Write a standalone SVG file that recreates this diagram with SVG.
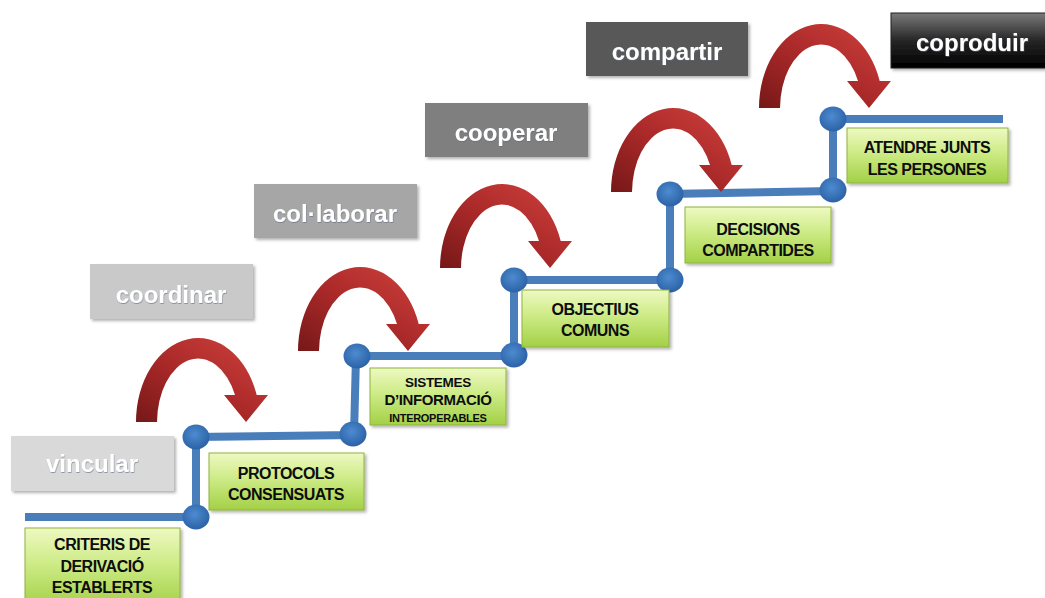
<svg xmlns="http://www.w3.org/2000/svg" width="1045" height="598" viewBox="0 0 1045 598">
  <defs>
    <linearGradient id="greenFill" x1="0" y1="0" x2="0" y2="1">
      <stop offset="0" stop-color="#eef9c2"/>
      <stop offset="0.45" stop-color="#cdeb86"/>
      <stop offset="1" stop-color="#a3d046"/>
    </linearGradient>
    <linearGradient id="redFill" x1="0" y1="1" x2="1" y2="0">
      <stop offset="0" stop-color="#761818"/>
      <stop offset="0.45" stop-color="#a82828"/>
      <stop offset="1" stop-color="#d2433f"/>
    </linearGradient>
    <linearGradient id="blackFill" x1="0" y1="0" x2="0" y2="1">
      <stop offset="0" stop-color="#7a7a7a"/>
      <stop offset="0.5" stop-color="#262626"/>
      <stop offset="1" stop-color="#000000"/>
    </linearGradient>
    <radialGradient id="dotFill" cx="0.45" cy="0.4" r="0.6">
      <stop offset="0" stop-color="#4d8bd0"/>
      <stop offset="1" stop-color="#2c62a6"/>
    </radialGradient>
    <filter id="shadow" x="-10%" y="-10%" width="125%" height="130%">
      <feDropShadow dx="2" dy="2" stdDeviation="1.5" flood-color="#000" flood-opacity="0.3"/>
    </filter>
    <filter id="txtShadow" x="-5%" y="-20%" width="110%" height="150%">
      <feDropShadow dx="0.5" dy="1" stdDeviation="0.6" flood-color="#5a6a80" flood-opacity="0.6"/>
    </filter>
    <!-- curved jump arrow, drawn once and placed at each step -->
    <path id="jump" d="M136,422 A62,84 0 0 1 256.7,395 L268,395 L246,422 L224,395 L235,395 A41,64 0 0 0 157,422 Z"/>
  </defs>
  <style>
    .label rect { filter: url(#shadow); }
    .label text { font-family: "Liberation Sans", Arial, sans-serif; font-weight: bold; font-size: 24px; fill: #ffffff; text-anchor: middle; filter: url(#txtShadow); }
    .step rect { fill: url(#greenFill); stroke: #8fb23e; stroke-width: 1; filter: url(#shadow); }
    .step text { font-family: "Liberation Sans", Arial, sans-serif; font-weight: bold; font-size: 16px; letter-spacing: -0.5px; fill: #0d0d0d; text-anchor: middle; }
    .step text.s13 { font-size: 13.5px; letter-spacing: -0.3px; }
    .step text.s14 { font-size: 15px; letter-spacing: -0.4px; }
    .step text.s11 { font-size: 11px; letter-spacing: -0.3px; }
    .stair { fill: none; stroke: #4a7ebb; stroke-width: 8; stroke-linejoin: miter; }
    .dot { fill: url(#dotFill); }
    .arrow use { fill: url(#redFill); }
  </style>

  <rect width="1045" height="598" fill="#ffffff"/>

  <!-- stage labels -->
  <g id="label-vincular" class="label">
    <rect x="11" y="436" width="163" height="55" fill="#d9d9d9"/>
    <text x="92" y="472">vincular</text>
  </g>
  <g id="label-coordinar" class="label">
    <rect x="90" y="264" width="163" height="55" fill="#c9c9c9"/>
    <text x="171" y="303">coordinar</text>
  </g>
  <g id="label-collaborar" class="label">
    <rect x="254" y="184" width="163" height="54" fill="#a6a6a6"/>
    <text x="335" y="222">col·laborar</text>
  </g>
  <g id="label-cooperar" class="label">
    <rect x="425" y="103" width="163" height="54" fill="#7f7f7f"/>
    <text x="506" y="141">cooperar</text>
  </g>
  <g id="label-compartir" class="label">
    <rect x="586" y="22" width="162" height="54" fill="#595959"/>
    <text x="667" y="60">compartir</text>
  </g>
  <g id="label-coproduir" class="label">
    <rect x="891" y="13" width="162" height="55" fill="url(#blackFill)" stroke="#222" stroke-width="1"/>
    <text x="972" y="51">coproduir</text>
  </g>

  <!-- staircase and joints -->
  <g id="connectors">
    <polyline class="stair" points="25,517 196,517 196,437 354,435 356,356 514,356 514,280 670,280 670,194 833,191 833,119 1003,119"/>
    <ellipse class="dot" cx="196" cy="517" rx="13.5" ry="12.5"/>
    <ellipse class="dot" cx="196" cy="437" rx="13.5" ry="12.5"/>
    <ellipse class="dot" cx="353" cy="434" rx="13.5" ry="12.5"/>
    <ellipse class="dot" cx="357" cy="356" rx="13.5" ry="12.5"/>
    <ellipse class="dot" cx="514" cy="355" rx="13.5" ry="12.5"/>
    <ellipse class="dot" cx="514" cy="280" rx="13.5" ry="12.5"/>
    <ellipse class="dot" cx="670" cy="280" rx="13.5" ry="12.5"/>
    <ellipse class="dot" cx="670" cy="194" rx="13.5" ry="12.5"/>
    <ellipse class="dot" cx="833" cy="190" rx="13.5" ry="12.5"/>
    <ellipse class="dot" cx="833" cy="119" rx="13.5" ry="12.5"/>
  </g>

  <!-- jump arrows -->
  <g id="arrows" class="arrow">
    <use href="#jump"/>
    <use href="#jump" transform="translate(162,-71)"/>
    <use href="#jump" transform="translate(304,-154)"/>
    <use href="#jump" transform="translate(475,-230)"/>
    <use href="#jump" transform="translate(623,-314)"/>
  </g>

  <!-- step boxes -->
  <g id="step-criteris" class="step">
    <rect x="25" y="528" width="155" height="80"/>
    <text x="102" y="550">CRITERIS DE</text>
    <text x="102" y="572">DERIVACIÓ</text>
    <text x="102" y="593">ESTABLERTS</text>
  </g>
  <g id="step-protocols" class="step">
    <rect x="209" y="453" width="155" height="57"/>
    <text x="286" y="479">PROTOCOLS</text>
    <text x="286" y="500">CONSENSUATS</text>
  </g>
  <g id="step-sistemes" class="step">
    <rect x="370" y="368" width="136" height="57"/>
    <text class="s13" x="438" y="387">SISTEMES</text>
    <text class="s14" x="438" y="405">D’INFORMACIÓ</text>
    <text class="s11" x="438" y="422">INTEROPERABLES</text>
  </g>
  <g id="step-objectius" class="step">
    <rect x="522" y="290" width="147" height="57"/>
    <text x="595" y="315">OBJECTIUS</text>
    <text x="595" y="336">COMUNS</text>
  </g>
  <g id="step-decisions" class="step">
    <rect x="685" y="207" width="146" height="56"/>
    <text x="758" y="235">DECISIONS</text>
    <text x="758" y="256">COMPARTIDES</text>
  </g>
  <g id="step-atendre" class="step">
    <rect x="847" y="128" width="161" height="55"/>
    <text x="927" y="153">ATENDRE JUNTS</text>
    <text x="927" y="175">LES PERSONES</text>
  </g>
</svg>
